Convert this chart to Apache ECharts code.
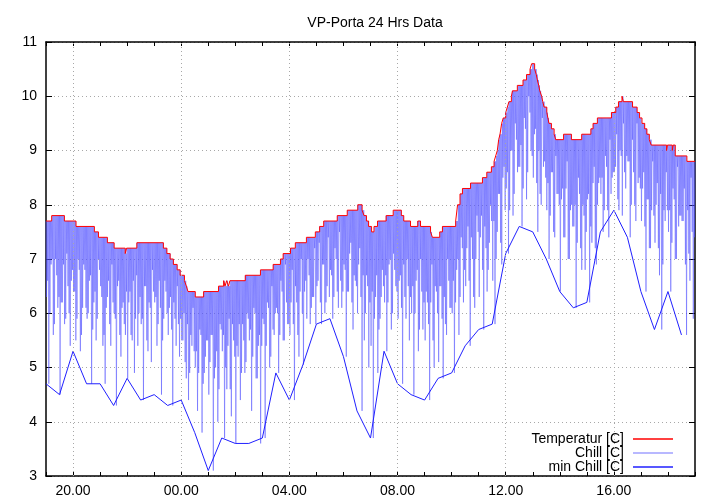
<!DOCTYPE html>
<html>
<head>
<meta charset="utf-8">
<script src="https://cdn.jsdelivr.net/npm/echarts@6/dist/echarts.min.js"></script>
<style>html,body{margin:0;padding:0;background:#fff}#c{width:720px;height:504px}</style>
</head>
<body>
<div id="c"></div>
<script>
// Temperature step change points: [hour since previous midnight, value]
const tempSteps = [
[19.00,7.7],[19.21,7.8],[19.68,7.7],[20.11,7.6],[20.79,7.5],[20.94,7.4],[21.27,7.3],[21.52,7.2],
[21.93,7.1],[21.98,7.2],[22.36,7.3],[23.34,7.2],[23.47,7.1],[23.59,7.0],[23.71,6.9],[23.85,6.8],
[23.96,6.7],[24.12,6.6],[24.19,6.5],[24.25,6.4],[24.52,6.3],[24.83,6.4],[25.38,6.5],[25.57,6.6],
[25.62,6.5],[25.68,6.6],[25.75,6.5],[25.80,6.6],[26.37,6.7],[26.93,6.8],[27.40,6.9],[27.67,7.0],
[27.77,7.1],[28.04,7.2],[28.22,7.3],[28.63,7.4],[28.96,7.5],[29.12,7.6],[29.27,7.7],[29.77,7.8],
[30.14,7.9],[30.53,8.0],[30.69,7.9],[30.76,7.8],[30.85,7.7],[30.93,7.6],[31.04,7.5],[31.13,7.6],
[31.26,7.7],[31.58,7.8],[31.84,7.9],[32.14,7.8],[32.23,7.7],[32.48,7.6],[32.75,7.7],[32.85,7.6],
[33.22,7.5],[33.29,7.4],[33.56,7.5],[33.66,7.6],[34.15,7.7],[34.22,8.0],[34.31,8.2],[34.40,8.3],
[34.70,8.4],[35.14,8.5],[35.30,8.6],[35.47,8.7],[35.57,8.8],[35.63,8.9],[35.69,9.0],[35.74,9.2],
[35.79,9.3],[35.85,9.5],[35.91,9.6],[36.00,9.7],[36.06,9.8],[36.12,9.9],[36.21,10.0],[36.25,10.1],
[36.43,10.2],[36.64,10.3],[36.77,10.4],[36.90,10.5],[36.96,10.6],[37.07,10.5],[37.13,10.4],[37.17,10.3],
[37.22,10.2],[37.26,10.1],[37.33,10.0],[37.37,9.9],[37.42,9.8],[37.52,9.7],[37.56,9.6],[37.60,9.5],
[37.69,9.4],[37.79,9.3],[37.85,9.2],[38.14,9.3],[38.43,9.2],[38.81,9.3],[39.15,9.4],[39.23,9.5],
[39.39,9.6],[39.91,9.7],[40.07,9.8],[40.17,9.9],[40.30,10.0],[40.35,9.9],[40.69,9.8],[40.86,9.7],
[40.95,9.6],[41.04,9.5],[41.14,9.4],[41.22,9.3],[41.31,9.2],[41.38,9.1],[41.95,9.0],[41.98,9.1],
[42.16,9.0],[42.19,9.1],[42.27,8.9],[42.70,8.8],[43.00,8.8]
];

// Chill dips: two per 5-minute slot starting 19:00 (first dip, then second dip)
const chillStartHour = 19;
const chillStepMinutes = 5;
const chillLows = [
6.3,4.7,6.9,5.6,7.0,6.1, 4.5,6.2,5.8,7.1,6.0,6.6, 6.4,5.5,7.0,5.3,6.1,6.8, 5.9,6.6,4.7,6.2,5.5,7.0,
6.5,5.4,4.7,6.3,5.8,6.9, 6.0,4.3,6.6,5.2,6.2,5.6, 4.8,6.4,5.5,4.9,6.7,6.0, 5.8,4.4,6.5,5.3,6.1,6.8,
6.2,5.4,6.6,4.5,5.9,6.4, 5.6,6.3,4.3,5.9,6.5,5.2, 5.5,6.0,4.8,4.4,5.6,6.1, 5.0,4.2,5.7,3.8,4.9,5.5,
4.5,5.6,3.1,5.0,4.0,5.8, 5.3,3.7,4.6,5.9,4.1,5.5, 3.6,5.2,4.4,5.8,4.9,6.0, 5.5,4.2,6.1,4.8,5.4,3.6,
5.9,3.7,6.2,5.0,6.5,5.6, 6.1,4.9,6.6,5.5,6.9,5.8, 5.6,6.8,4.4,6.2,5.2,7.0, 5.05,6.6,7.0,5.8,6.3,7.2,
6.5,7.3,5.8,6.9,6.2,7.4, 6.8,5.9,7.2,6.4,7.5,6.1, 6.9,5.2,6.4,7.3,5.7,6.6, 6.0,7.2,4.2,5.5,6.7,5.0,
5.4,3.7,6.3,4.9,5.9,6.8, 6.2,5.3,6.9,5.7,7.1,6.5, 5.9,6.7,4.7,6.3,7.0,5.5, 6.0,4.5,6.6,5.3,7.0,5.7,
5.5,6.2,4.4,6.9,5.0,6.4, 5.1,6.5,4.8,5.8,7.0,6.1, 6.0,4.9,6.8,5.6,7.4,6.2, 6.5,7.6,5.4,7.0,6.1,7.8,
6.3,7.8,5.7,7.2,6.8,8.0, 6.6,5.8,7.5,8.2,6.9,8.7, 8.3,7.1,9.0,7.8,9.5,8.6, 8.7,7.6,9.6,8.1,10.0,9.0,
8.5,9.4,7.5,8.2,9.6,8.8, 7.9,7.0,8.6,7.5,8.9,8.2, 6.4,8.3,7.4,8.8,7.0,8.0, 7.6,6.1,8.5,7.2,8.0,6.8,
8.1,6.2,7.3,8.7,6.9,8.4, 8.2,7.5,8.9,7.9,9.2,8.5, 8.6,9.3,7.9,8.9,9.5,8.3, 8.8,7.4,9.2,8.0,9.5,8.5,
7.7,8.6,6.4,8.1,7.2,8.8, 7.3,8.4,6.7,5.7,7.9,8.6, 7.5,6.4,8.3,7.0,8.7,7.8, 7.7,8.3,5.6,7.1,8.5,5.9
];
const chillSecond = [
6.6,6.0,7.0,5.8,6.7,6.3, 6.2,6.9,5.9,6.5,5.4,6.8, 6.4,5.9,6.8,5.6,6.9,6.1, 6.0,6.7,5.7,6.4,5.9,6.8,
6.3,5.6,6.1,6.6,5.4,6.2, 5.9,6.5,5.6,6.1,5.8,6.4, 6.2,5.6,6.6,5.9,5.4,6.3, 5.9,6.5,5.5,6.2,5.1,6.4,
6.3,5.8,6.1,5.5,6.6,6.0, 6.1,5.7,6.2,5.4,5.8,5.9, 5.5,5.1,5.8,4.9,5.4,5.3, 5.3,4.9,5.6,4.7,5.2,5.5,
5.1,5.6,4.8,5.3,4.6,5.7, 5.6,5.0,5.4,4.6,5.8,5.2, 5.4,5.8,4.9,5.5,5.1,5.9, 5.7,5.2,6.0,4.8,5.6,5.4,
5.8,5.4,6.1,5.2,5.7,6.0, 6.0,5.6,6.4,5.5,6.2,5.8, 6.2,5.8,6.5,5.6,6.4,6.0, 6.4,5.9,6.7,6.1,6.3,5.8,
6.6,6.2,6.9,6.0,6.5,6.3, 6.7,6.3,7.0,6.1,6.6,6.4, 6.8,6.4,7.1,6.2,6.7,6.5, 6.9,6.3,6.7,6.0,6.5,6.2,
6.4,5.9,6.7,5.7,6.3,6.5, 6.7,6.2,7.0,6.0,6.8,6.4, 6.6,6.1,6.9,5.9,6.5,6.3, 6.5,6.0,6.8,5.7,6.4,6.2,
6.4,5.8,6.2,5.5,6.5,6.0, 6.5,5.9,6.3,5.6,6.6,6.1, 6.6,6.2,7.0,6.3,7.2,6.8, 7.2,6.6,7.4,6.3,7.0,7.5,
7.4,6.8,7.6,6.4,7.3,7.7, 7.7,7.0,8.2,7.3,8.5,7.9, 8.6,7.9,9.0,8.2,9.2,8.7, 9.1,8.3,9.4,8.6,9.7,8.9,
9.3,8.4,9.0,8.0,8.7,8.5, 8.4,7.8,8.6,7.4,8.2,8.0, 8.1,7.4,8.3,7.0,7.9,7.6, 8.0,7.3,8.2,6.8,7.8,7.5,
8.2,7.6,8.4,7.2,8.0,8.5, 8.5,7.9,8.7,7.4,8.2,8.6, 8.7,8.1,9.0,7.8,8.6,8.9, 8.8,8.0,8.6,7.7,8.4,8.3,
8.3,7.6,8.1,7.2,7.9,7.8, 8.0,7.2,8.2,6.9,7.7,7.9, 7.9,7.3,8.1,7.0,7.6,7.8, 7.7,6.9,7.9,6.6,7.5,7.4
];

const minChillHours = [19.0,19.5,20.0,20.5,21.0,21.5,22.0,22.5,23.0,23.5,24.0,24.5,25.0,25.5,26.0,26.5,
27.0,27.5,28.0,28.5,29.0,29.5,30.0,30.5,31.0,31.5,32.0,32.5,33.0,33.5,34.0,34.5,35.0,35.5,36.0,36.5,
37.0,37.5,38.0,38.5,39.0,39.5,40.0,40.5,41.0,41.5,42.0,42.5];
const minChillValues = [4.7,4.5,5.3,4.7,4.7,4.3,4.8,4.4,4.5,4.3,4.4,3.8,3.1,3.7,3.6,3.6,
3.7,4.9,4.4,5.05,5.8,5.9,5.2,4.2,3.7,5.3,4.7,4.5,4.4,4.8,4.9,5.4,5.7,5.8,7.1,7.6,
7.5,7.0,6.4,6.1,6.2,7.5,7.9,7.4,6.4,5.7,6.4,5.6];

const gridHours = [20,24,28,32,36,40];
const xMin = 19, xMax = 43;
const yMin = 3, yMax = 11;
const seriesNames = ['Temperatur [C]','Chill [C]','min Chill [C]'];

function tempAt(h){
  let v = tempSteps[0][1];
  for (const s of tempSteps){ if (s[0] <= h) v = s[1]; else break; }
  return v;
}
const chillData = [];
const q = chillStepMinutes/60/4;
chillLows.forEach((low,i)=>{
  const t = chillStartHour + i*chillStepMinutes/60;
  chillData.push([t, tempAt(t)]);
  chillData.push([t + q, low]);
  chillData.push([t + 2*q, tempAt(t + 2*q)]);
  chillData.push([t + 3*q, chillSecond[i]]);
});
chillData.push([xMax, tempAt(xMax)]);
const minChillData = minChillHours.map((h,i)=>[h, minChillValues[i]]);

const FONT = "'Liberation Sans', Arial, sans-serif";
const fmt = v => (v % 4 === 0) ? String(v % 24).padStart(2,'0') + '.00' : '';

const chart = echarts.init(document.getElementById('c'), null, {renderer:'canvas'});
chart.setOption({
  animation:false,
  backgroundColor:'#fff',
  title:{text:'VP-Porta 24 Hrs Data', left:370, textAlign:'center', top:11,
    textStyle:{fontSize:14, fontWeight:'normal', color:'#000', fontFamily:FONT}},
  grid:{left:46, right:25, top:42, bottom:28, containLabel:false},
  legend:{orient:'vertical', right:42, top:427, align:'right', itemWidth:40, itemHeight:1.5,
    itemGap:0, icon:'rect', selectedMode:false,
    textStyle:{fontSize:14, lineHeight:14, color:'#000', fontFamily:FONT, padding:[0,4,0,0]},
    data:[
      {name:seriesNames[0], itemStyle:{color:'#ff0000'}},
      {name:seriesNames[1], itemStyle:{color:'#a0a0ff'}},
      {name:seriesNames[2], itemStyle:{color:'#2020ff'}}
    ]},
  xAxis:[
    {type:'value', min:xMin, max:xMax, interval:1, position:'bottom',
     axisLine:{show:true, onZero:false, lineStyle:{color:'#000', width:1.5}},
     axisTick:{show:true, inside:true, length:4, lineStyle:{color:'#000'}},
     axisLabel:{formatter:fmt, color:'#000', fontSize:14, fontFamily:FONT, margin:8},
     splitLine:{show:false}},
    {type:'value', min:xMin, max:xMax, interval:1, position:'top',
     axisLine:{show:true, onZero:false, lineStyle:{color:'#000', width:1.5}},
     axisTick:{show:true, inside:true, length:4, lineStyle:{color:'#000'}},
     axisLabel:{show:false}, splitLine:{show:false}}
  ],
  yAxis:[
    {type:'value', min:yMin, max:yMax, interval:1, position:'left',
     axisLine:{show:true, onZero:false, lineStyle:{color:'#000', width:1.5}},
     axisTick:{show:true, inside:true, length:6, lineStyle:{color:'#000'}},
     axisLabel:{color:'#000', fontSize:14, fontFamily:FONT, margin:9},
     splitLine:{show:true, lineStyle:{color:'#a8a8a8', type:[1,3], width:1}}},
    {type:'value', min:yMin, max:yMax, interval:1, position:'right',
     axisLine:{show:true, onZero:false, lineStyle:{color:'#000', width:1.5}},
     axisTick:{show:true, inside:true, length:6, lineStyle:{color:'#000'}},
     axisLabel:{show:false}, splitLine:{show:false}}
  ],
  series:[
    {name:'grid', type:'line', data:[], z:1, silent:true,
     markLine:{silent:true, symbol:'none', label:{show:false}, animation:false,
       lineStyle:{color:'#a8a8a8', type:[1,3], width:1},
       data:gridHours.map(h=>({xAxis:h}))}},
    {name:seriesNames[1], type:'line', data:chillData, showSymbol:false,
     lineStyle:{color:'rgba(80,80,255,0.5)', width:1}, itemStyle:{color:'#a0a0ff'}, z:2},
    {name:seriesNames[0], type:'line', step:'end', data:tempSteps, showSymbol:false,
     lineStyle:{color:'#ff0000', width:1}, itemStyle:{color:'#ff0000'}, z:3},
    {name:seriesNames[2], type:'line', data:minChillData, showSymbol:false,
     lineStyle:{color:'#2020ff', width:1}, itemStyle:{color:'#2020ff'}, z:4}
  ]
});
</script>
</body>
</html>
